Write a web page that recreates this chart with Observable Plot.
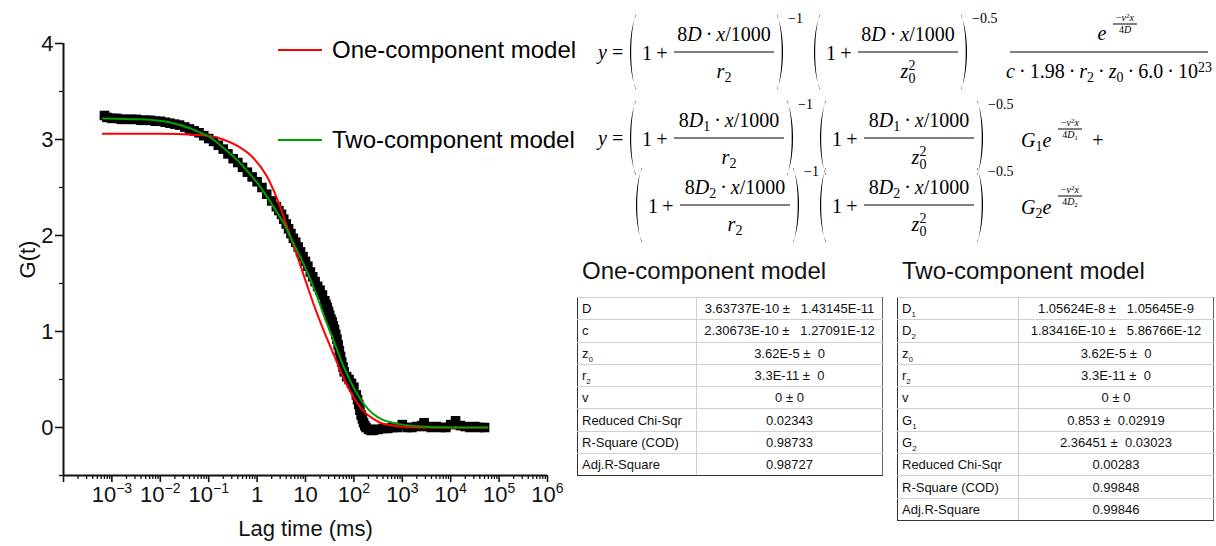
<!DOCTYPE html>
<html><head><meta charset="utf-8">
<script src="https://cdn.jsdelivr.net/npm/d3@7"></script>
<script src="https://cdn.jsdelivr.net/npm/@observablehq/plot@0.6"></script>
<style>
html,body{margin:0;padding:0;background:#fff;}
#wrap{position:relative;width:1216px;height:546px;overflow:hidden;font-family:"Liberation Sans",Arial,sans-serif;background:#fff;}
#wrap > svg{position:absolute;left:0;top:0;}
#ov{position:absolute;left:0;top:0;width:1216px;height:546px;}
#ovsvg{position:absolute;left:0;top:0;}
.abs{position:absolute;white-space:nowrap;line-height:1;}
table.fit{position:absolute;border-collapse:collapse;font-family:"Liberation Sans",Arial,sans-serif;font-size:13px;color:#111;}
table.fit td{border:1px solid #cfcfcf;padding:0;height:21.3px;line-height:1;}
table.fit td.l{text-align:left;padding-left:4px;border-left:1.5px solid #333;}
table.fit td.v{text-align:center;border-right:1.5px solid #666;}
table.fit tr:last-child td{border-bottom:1.5px solid #333;}
table.fit sub{font-size:8px;vertical-align:-4px;line-height:0;}
.ttl{position:absolute;font-family:"Liberation Sans",Arial,sans-serif;font-size:24px;line-height:1;color:#111;}
</style></head>
<body><div id="wrap"><div id="ov"></div></div>
<script>
// ---------------- data ----------------
const dataLag = [7.0e-4,7.9e-4,1.0e-3,1.26e-3,1.58e-3,2.0e-3,2.5e-3,3.2e-3,4.0e-3,5.0e-3,6.3e-3,7.9e-3,
  1.0e-2,1.26e-2,1.58e-2,2.0e-2,2.5e-2,3.2e-2,4.0e-2,5.0e-2,6.3e-2,7.9e-2,
  0.1,0.126,0.158,0.2,0.25,0.32,0.40,0.50,0.63,0.79,
  1.0,1.26,1.58,2.0,2.5,2.82,3.2,3.55,4.0,4.47,5.0,5.62,6.3,7.08,7.9,8.9,
  10,11.2,12.6,14.1,15.8,17.8,20,22.4,25.1,26.6,28.2,29.9,31.6,33.5,35.5,37.6,39.8,42.2,44.7,47.3,50.1,53.1,56.2,59.6,63.1,70.8,79.4,89.1,
  100,112,119,126,133,141,150,158,168,178,200,224,251,282,316,398,501,631,794,
  1000,1260,1580,2000,2510,2820,3160,3980,5010,6310,7940,
  10000,12600,15800,20000,25100,31600,39800,50100];
const dataG = [3.25,3.23,3.22,3.22,3.21,3.21,3.21,3.21,3.20,3.20,3.20,3.19,
  3.19,3.18,3.17,3.16,3.15,3.13,3.11,3.09,3.07,3.04,
  3.01,2.98,2.94,2.90,2.85,2.80,2.76,2.71,2.66,2.61,
  2.56,2.50,2.43,2.36,2.30,2.26,2.22,2.17,2.12,2.07,2.02,1.97,1.93,1.88,1.83,1.78,
  1.73,1.68,1.62,1.57,1.52,1.47,1.43,1.38,1.32,1.28,1.25,1.21,1.17,1.13,1.10,1.06,1.02,0.97,0.92,0.86,0.80,0.74,0.68,0.63,0.58,0.53,0.50,0.46,
  0.42,0.34,0.29,0.24,0.18,0.13,0.09,0.05,0.02,0.00,-0.02,-0.03,-0.03,-0.02,-0.02,-0.01,-0.01,0.00,0.00,
  0.03,0.00,0.00,0.01,0.02,0.05,0.01,0.00,0.01,0.00,0.00,
  0.03,0.07,0.02,0.01,0.00,0.01,0.00,0.00];

const oneLag = [6.5e-4,0.01,0.05,0.1,0.2,0.4,0.79,1.58,2.51,3.98,6.31,10,15.8,25.1,39.8,63.1,100,158,251,398,631,1000,2510,57500];
const oneG   = [3.06,3.06,3.05,3.04,3.00,2.93,2.82,2.62,2.40,2.12,1.83,1.53,1.24,0.98,0.74,0.50,0.31,0.17,0.09,0.04,0.02,0.01,0.00,0.00];

const twoLag = [6.5e-4,0.004,0.0186,0.0398,0.0676,0.11,0.204,0.398,0.631,1,1.62,2.51,3.55,5.01,6.76,10,15.8,25.1,39.8,63.1,100,158,251,398,631,1000,2512,10000,57500];
const twoG   = [3.22,3.21,3.17,3.12,3.07,3.02,2.91,2.78,2.67,2.55,2.40,2.25,2.13,1.97,1.84,1.66,1.42,1.14,0.88,0.62,0.41,0.25,0.14,0.08,0.05,0.03,0.01,0.00,0.00];

const xMajor = [1e-4,1e-3,1e-2,1e-1,1,10,1e2,1e3,1e4,1e5,1e6];
const yMajor = [0,1,2,3,4];
const yMinor = [-0.5,0.5,1.5,2.5,3.5];

const legendNames = ["One-component model","Two-component model"];
const legendColors = ["#ff0000","#00a000"];

const oneLabels = ["D","c","z_0","r_2","v","Reduced Chi-Sqr","R-Square (COD)","Adj.R-Square"];
const oneValues = ["3.63737E-10 ±&nbsp;&nbsp; 1.43145E-11","2.30673E-10 ±&nbsp;&nbsp; 1.27091E-12","3.62E-5 ±&nbsp;&nbsp;0","3.3E-11 ±&nbsp;&nbsp;0","0 ± 0","0.02343","0.98733","0.98727"];
const twoLabels = ["D_1","D_2","z_0","r_2","v","G_1","G_2","Reduced Chi-Sqr","R-Square (COD)","Adj.R-Square"];
const twoValues = ["1.05624E-8 ±&nbsp;&nbsp; 1.05645E-9","1.83416E-10 ±&nbsp;&nbsp; 5.86766E-12","3.62E-5 ±&nbsp;&nbsp;0","3.3E-11 ±&nbsp;&nbsp;0","0 ± 0","0.853 ±&nbsp; 0.02919","2.36451 ±&nbsp; 0.03023","0.00283","0.99848","0.99846"];

// ---------------- chart ----------------
const pts = dataLag.map((t,i)=>({t, g:dataG[i]}));
const one = oneLag.map((t,i)=>({t, g:oneG[i]}));
const two = twoLag.map((t,i)=>({t, g:twoG[i]}));
const xMinor = [];
for (let e=-4;e<6;e++) for (let k=2;k<10;k++) xMinor.push(k*Math.pow(10,e));

const fmtX = d => { const e = Math.round(Math.log10(d)); if (e===-4) return ""; if (e===0) return "1"; if (e===1) return "10"; return "10^"+e; };
const blank = () => "";

const chart = Plot.plot({
  width:1216, height:546,
  marginLeft:63, marginRight:669, marginTop:43, marginBottom:71,
  x:{type:"log", domain:[1e-4,1e6]},
  y:{domain:[-0.5,4]},
  style:{fontFamily:'"Liberation Sans",Arial,sans-serif', fontSize:"22px", color:"#111", background:"transparent", overflow:"visible"},
  marks:[
    Plot.axisX(xMinor,{tickSize:4, tickFormat:blank, strokeWidth:1.3, label:null}),
    Plot.axisX(xMajor,{tickSize:7, tickPadding:4, tickFormat:fmtX, strokeWidth:1.6, label:"Lag time (ms)", labelAnchor:"center", labelOffset:60, labelArrow:"none"}),
    Plot.axisY(yMinor,{tickSize:4, tickFormat:blank, strokeWidth:1.3, label:null}),
    Plot.axisY(yMajor,{tickSize:8, tickPadding:2, tickFormat:d=>String(d), strokeWidth:1.6, label:"G(t)", labelAnchor:"center", labelOffset:44, labelArrow:"none"}),
    Plot.ruleY([-0.5],{strokeWidth:2}),
    Plot.ruleX([1e-4],{strokeWidth:2}),
    Plot.dot(pts,{x:"t", y:"g", symbol:"square", r:5.4, fill:"black", stroke:"none"}),
    Plot.line(one,{x:"t", y:"g", stroke:legendColors[0], strokeWidth:2, curve:"monotone-x"}),
    Plot.line(two,{x:"t", y:"g", stroke:legendColors[1], strokeWidth:2, curve:"monotone-x"})
  ]
});
document.getElementById("wrap").insertBefore(chart, document.getElementById("ov"));

// superscripts on x tick labels
d3.select(chart).selectAll('g[aria-label="x-axis tick label"] text').each(function(){
  const s = this.textContent;
  if (s.includes("^")) {
    const [b,e] = s.split("^");
    const t = d3.select(this); t.text("");
    t.append("tspan").text(b);
    t.append("tspan").attr("font-size",14).attr("dy",-9).text(e.replace("-","\u2212"));
  }
});

// ---------------- overlay: legend, equations, tables ----------------
const ov = document.getElementById("ov");
const osvg = d3.select(ov).append("svg").attr("id","ovsvg").attr("width",1216).attr("height",546);
const MATH = '"Liberation Serif","Times New Roman",serif';

function T(html, x, y, size, anchor="middle", font=MATH){
  const d = document.createElement("div");
  d.className = "abs"; d.innerHTML = html;
  const tx = anchor==="start"?0:anchor==="end"?-100:-50;
  d.style.left=x+"px"; d.style.top=y+"px"; d.style.fontSize=size+"px"; d.style.fontFamily=font;
  d.style.transform=`translate(${tx}%,-50%)`;
  ov.appendChild(d); return d;
}
const i = s => `<i>${s}</i>`;
const sb = s => `<span style="font-size:.7em;position:relative;top:.3em">${s}</span>`;
const sp = s => `<span style="font-size:.7em;position:relative;top:-.45em">${s}</span>`;
const subsup = (b,s,p) => `${b}<span style="font-size:.7em;position:relative;top:.35em">${s}</span><span style="font-size:.7em;position:relative;top:-.55em;margin-left:-.5em">${p}</span>`;
const dot = `<span style="margin:0 .2em">·</span>`;

function bar(x1,x2,y){ osvg.append("line").attr("x1",x1).attr("x2",x2).attr("y1",y).attr("y2",y).attr("stroke","#000").attr("stroke-width",1); }
function paren(x,y1,y2,side){
  const h=y2-y1, w=8, t=1.8;
  let p;
  if (side==="L"){
    const xt=x+w;
    p=`M${xt},${y1} C${x},${y1+h*0.25} ${x},${y2-h*0.25} ${xt},${y2} L${xt-0.5},${y2} C${x+t},${y2-h*0.25} ${x+t},${y1+h*0.25} ${xt-0.5},${y1} Z`;
  } else {
    const xt=x, xo=x+w;
    p=`M${xt},${y1} C${xo},${y1+h*0.25} ${xo},${y2-h*0.25} ${xt},${y2} L${xt+0.5},${y2} C${xo-t},${y2-h*0.25} ${xo-t},${y1+h*0.25} ${xt+0.5},${y1} Z`;
  }
  osvg.append("path").attr("d",p).attr("fill","#000");
}
function frac(x1,x2,y,num,den,size=20,dn=18,dd=19){
  bar(x1,x2,y);
  T(num,(x1+x2)/2,y-dn,size);
  T(den,(x1+x2)/2,y+dd,size);
}
function factor(xL,yc,num,den,fw,exp){
  paren(xL,yc-37,yc+37,"L");
  T("1",xL+19,yc+1,20);
  T("+",xL+34,yc+1,20);
  frac(xL+46,xL+46+fw,yc,num,den);
  paren(xL+49+fw,yc-37,yc+37,"R");
  T(exp,xL+60+fw,yc-33,14,"start");
}
function expo(xc,yc,num,den){
  bar(xc-12,xc+12,yc);
  T(num,xc,yc-6,10);
  T(den,xc,yc+6,10);
}

// legend
legendNames.forEach((n,k)=>{
  const y=[50,140][k];
  osvg.append("line").attr("x1",278).attr("x2",322).attr("y1",y).attr("y2",y).attr("stroke",legendColors[k]).attr("stroke-width",2);
  T(n,332,y,24,"start",'"Liberation Sans",Arial,sans-serif');
});

// equation 1
const num0 = `8${i("D")}${dot}${i("x")}/1000`;
const r2 = `${i("r")}${sb("2")}`;
const z02 = subsup(i("z"),"0","2");
T(`${i("y")}&nbsp;=`,598,52,20,"start");
factor(628,52,num0,r2,100,"\u22121");
factor(812,52,num0,z02,100,"\u22120.5");
bar(1010,1208,52);
T(i("e"),1102,33,20);
expo(1125,24,`\u2212${i("v")}${sp("2")}${i("x")}`,`4${i("D")}`);
T(`${i("c")}${dot}1.98${dot}${i("r")}${sb("2")}${dot}${i("z")}${sb("0")}${dot}6.0${dot}10${sp("23")}`,1109,71,20);

// equation 2
const num1 = `8${i("D")}${sb("1")}${dot}${i("x")}/1000`;
const num2 = `8${i("D")}${sb("2")}${dot}${i("x")}/1000`;
T(`${i("y")}&nbsp;=`,598,138,20,"start");
factor(628,138,num1,r2,110,"\u22121");
factor(818,138,num1,z02,110,"\u22120.5");
T(`${i("G")}${sb("1")}${i("e")}`,1021,140,20,"start");
expo(1070,129,`\u2212${i("v")}${sp("2")}${i("x")}`,`4${i("D")}${sb("1")}`);
T("+",1098,140,20);
factor(634,205,num2,r2,110,"\u22121");
factor(818,205,num2,z02,110,"\u22120.5");
T(`${i("G")}${sb("2")}${i("e")}`,1021,207,20,"start");
expo(1070,196,`\u2212${i("v")}${sp("2")}${i("x")}`,`4${i("D")}${sb("2")}`);

// tables
function table(left, top, w1, w2, labels, values, title){
  const t = document.createElement("div");
  t.className="ttl"; t.textContent=title; t.style.left=(left+5)+"px"; t.style.top=(top-38)+"px";
  ov.appendChild(t);
  const tb = document.createElement("table");
  tb.className="fit"; tb.style.left=left+"px"; tb.style.top=top+"px";
  tb.innerHTML = labels.map((l,k)=>`<tr><td class="l" style="width:${w1}px">${l.replace(/_(\w)/,"<sub>$1</sub>")}</td><td class="v" style="width:${w2}px">${values[k]}</td></tr>`).join("");
  ov.appendChild(tb);
}
table(577,297,114,185,oneLabels,oneValues,"One-component model");
table(897,297,116,194,twoLabels,twoValues,"Two-component model");
</script></body></html>
